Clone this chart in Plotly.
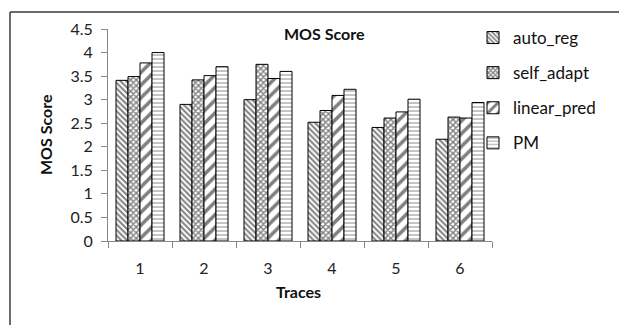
import plotly.graph_objects as go

traces = ["1", "2", "3", "4", "5", "6"]
auto_reg = [3.41, 2.90, 3.00, 2.52, 2.41, 2.16]
self_adapt = [3.49, 3.42, 3.75, 2.77, 2.61, 2.63]
linear_pred = [3.78, 3.51, 3.45, 3.09, 2.74, 2.61]
pm = [4.00, 3.70, 3.60, 3.22, 3.01, 2.94]
y_ticks = [0, 0.5, 1, 1.5, 2, 2.5, 3, 3.5, 4, 4.5]

FONT = "Lato"
# page has an 8px body margin; figure coordinates below are page coords - 8
W, H = 619, 317
PL, PR, PT, PB = 100, 484, 21, 233
PW, PH = PR - PL, PB - PT

def px(x):
    return (x - PL) / PW

def py(y):
    return (PB - y) / PH

series = [
    ("auto_reg", auto_reg, dict(shape="\\", size=4, solidity=0.5, fgcolor="black", bgcolor="white")),
    ("self_adapt", self_adapt, dict(shape="x", size=4, solidity=0.6, fgcolor="black", bgcolor="white")),
    ("linear_pred", linear_pred, dict(shape="/", size=9, solidity=0.4, fgcolor="black", bgcolor="white")),
    ("PM", pm, dict(shape="-", size=4, solidity=0.35, fgcolor="#555", bgcolor="white")),
]

fig = go.Figure()
for name, vals, pat in series:
    fig.add_trace(go.Bar(
        x=traces, y=vals, name=name, legendgroup=name,
        marker=dict(color="white", pattern=pat, line=dict(color="black", width=1)),
    ))

ann_common = dict(xref="paper", yref="paper", showarrow=False,
                  xanchor="center", yanchor="middle")

fig.update_layout(
    width=W, height=H,
    margin=dict(l=PL, r=W - PR, t=PT, b=H - PB),
    paper_bgcolor="white", plot_bgcolor="white",
    barmode="group", bargap=0.25, bargroupgap=0,
    font=dict(family=FONT, size=15, color="#222"),
    showlegend=True,
    legend=dict(x=px(465), y=py(12), xanchor="left", yanchor="top",
                traceorder="grouped", tracegroupgap=10,
                font=dict(family=FONT, size=17, color="#111"),
                itemwidth=30, bgcolor="rgba(0,0,0,0)"),
    xaxis=dict(showline=True, linecolor="#888", linewidth=1,
               ticks="outside", ticklen=6, tickcolor="#888",
               tickson="boundaries", ticklabelstandoff=13,
               tickfont=dict(family=FONT, size=16, color="#222"),
               showgrid=False),
    yaxis=dict(range=[0, 4.5], tickvals=y_ticks, showline=True, linecolor="#888", linewidth=1,
               ticks="outside", ticklen=6, tickcolor="#888", ticklabelstandoff=5,
               tickfont=dict(family=FONT, size=16, color="#222"),
               showgrid=False, zeroline=False),
    annotations=[
        dict(text="<b>MOS Score</b>", x=px(316), y=py(25),
             font=dict(family=FONT, size=16, color="#111"), **ann_common),
        dict(text="<b>Traces</b>", x=px(290), y=py(283),
             font=dict(family=FONT, size=16, color="#111"), **ann_common),
        dict(text="<b>MOS Score</b>", x=px(37), y=py(127), textangle=-90,
             font=dict(family=FONT, size=16, color="#111"), **ann_common),
    ],
    shapes=[
        dict(type="line", xref="paper", yref="paper",
             x0=px(2), x1=px(640), y0=py(4), y1=py(4),
             line=dict(color="#3a3a3a", width=1.5)),
        dict(type="line", xref="paper", yref="paper",
             x0=px(2), x1=px(2), y0=py(4), y1=py(340),
             line=dict(color="#3a3a3a", width=1.5)),
    ],
)

fig.write_html("out.html")
